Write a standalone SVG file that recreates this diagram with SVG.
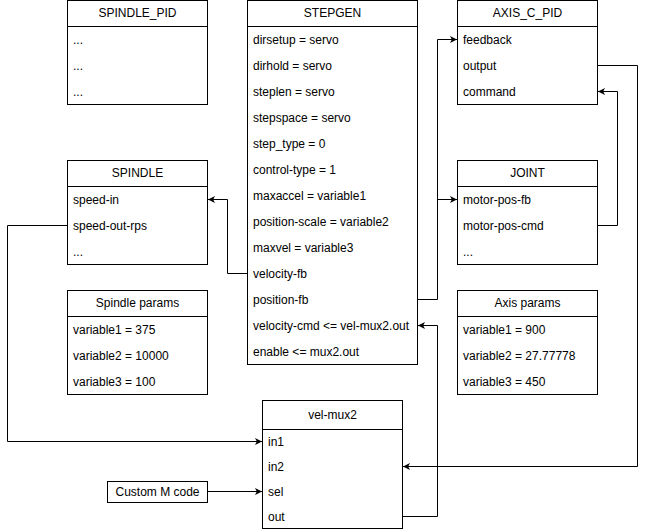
<svg xmlns="http://www.w3.org/2000/svg" width="646" height="530" viewBox="0 0 646 530">
<style>
.box{fill:#fff;stroke:#000;stroke-width:1}
.t{font-family:"Liberation Sans",Arial,sans-serif;font-size:12px;fill:#000}
.c{text-anchor:middle}
.w{fill:none;stroke:#000;stroke-width:1}
</style>
<defs>
<marker id="a" viewBox="0 0 8 8" refX="7" refY="4" markerWidth="8" markerHeight="8" markerUnits="userSpaceOnUse" orient="auto">
<path d="M0,0.5 L7,4 L0,7.5 L1.8,4 Z" fill="#000"/>
</marker>
</defs>
<rect width="646" height="530" fill="#fff"/>

<g id="spindle_pid">
<rect class="box" x="67.5" y="0.5" width="140" height="104"/>
<line class="w" x1="67.5" y1="26.5" x2="207.5" y2="26.5"/>
<text class="t c" x="137.5" y="17">SPINDLE_PID</text>
<text class="t" x="73" y="44">...</text>
<text class="t" x="73" y="70">...</text>
<text class="t" x="73" y="96">...</text>
</g>

<g id="stepgen">
<rect class="box" x="247.5" y="0.5" width="170" height="364"/>
<line class="w" x1="247.5" y1="26.5" x2="417.5" y2="26.5"/>
<text class="t c" x="332.5" y="17">STEPGEN</text>
<text class="t" x="253" y="44">dirsetup = servo</text>
<text class="t" x="253" y="70">dirhold = servo</text>
<text class="t" x="253" y="96">steplen = servo</text>
<text class="t" x="253" y="122">stepspace = servo</text>
<text class="t" x="253" y="148">step_type = 0</text>
<text class="t" x="253" y="174">control-type = 1</text>
<text class="t" x="253" y="200">maxaccel = variable1</text>
<text class="t" x="253" y="226">position-scale = variable2</text>
<text class="t" x="253" y="252">maxvel = variable3</text>
<text class="t" x="253" y="278">velocity-fb</text>
<text class="t" x="253" y="304">position-fb</text>
<text class="t" x="253" y="330">velocity-cmd &lt;= vel-mux2.out</text>
<text class="t" x="253" y="356">enable &lt;= mux2.out</text>
</g>

<g id="axis_c_pid">
<rect class="box" x="457.5" y="0.5" width="140" height="104"/>
<line class="w" x1="457.5" y1="26.5" x2="597.5" y2="26.5"/>
<text class="t c" x="527.5" y="17">AXIS_C_PID</text>
<text class="t" x="463" y="44">feedback</text>
<text class="t" x="463" y="70">output</text>
<text class="t" x="463" y="96">command</text>
</g>

<g id="spindle">
<rect class="box" x="67.5" y="160.5" width="140" height="104"/>
<line class="w" x1="67.5" y1="186.5" x2="207.5" y2="186.5"/>
<text class="t c" x="137.5" y="177">SPINDLE</text>
<text class="t" x="73" y="204">speed-in</text>
<text class="t" x="73" y="230">speed-out-rps</text>
<text class="t" x="73" y="256">...</text>
</g>

<g id="joint">
<rect class="box" x="457.5" y="160.5" width="140" height="104"/>
<line class="w" x1="457.5" y1="186.5" x2="597.5" y2="186.5"/>
<text class="t c" x="527.5" y="177">JOINT</text>
<text class="t" x="463" y="204">motor-pos-fb</text>
<text class="t" x="463" y="230">motor-pos-cmd</text>
<text class="t" x="463" y="256">...</text>
</g>

<g id="spindle_params">
<rect class="box" x="67.5" y="290.5" width="140" height="104"/>
<line class="w" x1="67.5" y1="316.5" x2="207.5" y2="316.5"/>
<text class="t c" x="137.5" y="307">Spindle params</text>
<text class="t" x="73" y="334">variable1 = 375</text>
<text class="t" x="73" y="360">variable2 = 10000</text>
<text class="t" x="73" y="386">variable3 = 100</text>
</g>

<g id="axis_params">
<rect class="box" x="457.5" y="290.5" width="140" height="104"/>
<line class="w" x1="457.5" y1="316.5" x2="597.5" y2="316.5"/>
<text class="t c" x="527.5" y="307">Axis params</text>
<text class="t" x="463" y="334">variable1 = 900</text>
<text class="t" x="463" y="360">variable2 = 27.77778</text>
<text class="t" x="463" y="386">variable3 = 450</text>
</g>

<g id="vel_mux2">
<rect class="box" x="262.5" y="400.5" width="140" height="128"/>
<line class="w" x1="262.5" y1="429.5" x2="402.5" y2="429.5"/>
<text class="t c" x="332.5" y="419">vel-mux2</text>
<text class="t" x="268" y="446">in1</text>
<text class="t" x="268" y="471">in2</text>
<text class="t" x="268" y="496">sel</text>
<text class="t" x="268" y="521">out</text>
</g>

<g id="custom_m_code">
<rect class="box" x="107.5" y="481.5" width="100" height="21"/>
<text class="t c" x="157.5" y="496">Custom M code</text>
</g>

<g id="connectors">
<path class="w" d="M247.5,273.5 H227.5 V199.5 H208" marker-end="url(#a)"/>
<path class="w" d="M417.5,299.5 H437.5 V39.5 H457" marker-end="url(#a)"/>
<path class="w" d="M437.5,199.5 H457" marker-end="url(#a)"/>
<path class="w" d="M597.5,225.5 H617.5 V91.5 H598" marker-end="url(#a)"/>
<path class="w" d="M597.5,65.5 H637.5 V466.5 H403" marker-end="url(#a)"/>
<path class="w" d="M67.5,225.5 H7.5 V441.5 H262" marker-end="url(#a)"/>
<path class="w" d="M207.5,491.5 H262" marker-end="url(#a)"/>
<path class="w" d="M402.5,516.5 H437.5 V325.5 H418" marker-end="url(#a)"/>
</g>
</svg>
